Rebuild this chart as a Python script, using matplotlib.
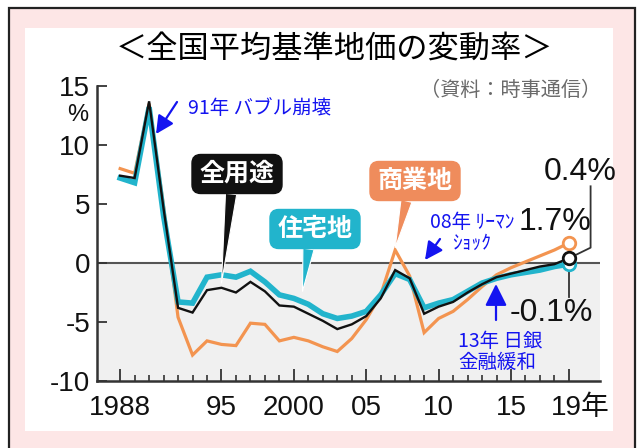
import numpy as np
import matplotlib
matplotlib.use("Agg")
import matplotlib.pyplot as plt
from matplotlib.patches import Rectangle
import matplotlib.transforms as mtransforms

# 全国平均基準地価の変動率 (%)
years = list(range(1988, 2020))
zenyoto = [7.4, 7.2, 13.7, 4.6, -3.8, -4.2, -2.3, -2.1, -2.5, -1.6,
           -2.4, -3.6, -3.7, -4.3, -4.9, -5.6, -5.2, -4.5, -3.0, -0.6,
           -1.3, -4.3, -3.7, -3.3, -2.5, -1.8, -1.2, -0.9, -0.6, -0.3,
           -0.1, 0.4]
jutaku = [7.2, 6.8, 13.2, 4.0, -3.3, -3.4, -1.2, -1.0, -1.2, -0.7,
          -1.6, -2.7, -3.0, -3.5, -4.3, -4.7, -4.5, -4.1, -2.7, -0.9,
          -1.4, -3.8, -3.4, -3.1, -2.4, -1.7, -1.3, -1.0, -0.8, -0.6,
          -0.3, -0.1]
shogyo = [8.0, 7.6, 13.5, 4.8, -4.6, -7.8, -6.6, -6.9, -7.0, -5.1,
          -5.2, -6.6, -6.3, -6.6, -7.1, -7.5, -6.4, -4.8, -2.7, 1.1,
          -1.1, -5.9, -4.7, -4.1, -3.1, -2.0, -1.0, -0.4, 0.1, 0.6,
          1.1, 1.7]

xticks = [1988, 1995, 2000, 2005, 2010, 2015, 2019]
xlabels = ["1988", "95", "2000", "05", "10", "15", "19年"]
yticks = [-10, -5, 0, 5, 10, 15]

LATIN = ["Liberation Sans", "Noto Sans CJK JP", "DejaVu Sans"]
JP = ["Noto Sans CJK JP", "DejaVu Sans"]
plt.rcParams["font.family"] = LATIN

BLACK = "#111111"
CYAN = "#22b4cc"
ORANGE = "#f39450"
BLUE = "#1414f0"
W, H = 641, 448

fig = plt.figure(figsize=(W / 100, H / 100), dpi=100)
fig.patch.set_facecolor("white")


def fpx(x, y):  # top-left pixel -> figure pixels
    return (x, H - y)


# frame: pink card with black border, white panel inside
fig.add_artist(Rectangle((9 / W, -0.1), 626 / W, 1.1 - 8 / H, transform=fig.transFigure,
                         fc="#fde6e6", ec="#222222", lw=1.6, zorder=-3))
fig.add_artist(Rectangle((25 / W, 1 - 431 / H), 588 / W, 403 / H, transform=fig.transFigure,
                         fc="white", ec="none", zorder=-2))

ax = fig.add_axes([97 / W, 1 - 381 / H, 503 / W, 295 / H])
ax.set_facecolor("none")
ax.set_xlim(1986.4, 2021.15)
ax.set_ylim(-10, 15)

ax.axhspan(-10, 0, color="#f0f0f0", zorder=0, lw=0)
ax.axhline(0, color="#555555", lw=1.5, zorder=1)

ax.plot(years, shogyo, color=ORANGE, lw=2.3, zorder=2, solid_joinstyle="miter")
ax.plot(years, jutaku, color=CYAN, lw=4.0, zorder=3, solid_joinstyle="miter")
ax.plot(years, zenyoto, color=BLACK, lw=1.7, zorder=4, solid_joinstyle="miter")

ax.plot(years[-1], shogyo[-1], "o", ms=9, mfc="white", mec=ORANGE, mew=2, zorder=5)
ax.plot(years[-1], jutaku[-1], "o", ms=9, mfc="white", mec=CYAN, mew=2, zorder=5)
ax.plot(years[-1], zenyoto[-1], "o", ms=9, mfc="white", mec=BLACK, mew=2, zorder=6)

for s in ["top", "right"]:
    ax.spines[s].set_visible(False)
for s in ["left", "bottom"]:
    ax.spines[s].set_color("#333333")
    ax.spines[s].set_linewidth(1.8)

ax.set_yticks(yticks)
ax.set_yticklabels([str(v) for v in yticks])
ax.set_xticks(xticks)
ax.set_xticklabels(xlabels)
ax.set_xticks(years, minor=True)
ax.tick_params(axis="y", direction="in", length=7, width=1.3, colors="#333333",
               labelcolor="#111111", labelsize=20, pad=5)
ax.tick_params(axis="x", which="major", direction="in", length=9, width=1.3,
               colors="#333333", labelcolor="#111111", labelsize=20, pad=10)
ax.tick_params(axis="x", which="minor", direction="in", length=4, width=1.2, colors="#333333")
lbl = ax.get_xticklabels()[-1]
lbl.set_transform(lbl.get_transform() + mtransforms.ScaledTranslation(0.11, 0, fig.dpi_scale_trans))

fig.text(78 / W, 1 - 115 / H, "%", fontsize=17, ha="center", va="center", color="#111111")

# title and source
fig.text(334 / W, 1 - 50 / H, "＜全国平均基準地価の変動率＞", fontsize=22.5, family=JP,
         ha="center", va="center", color="black")
fig.text(601 / W, 1 - 91 / H, "（資料：時事通信）", fontsize=14.5, family=JP,
         ha="right", va="center", color="#6a6a6a")

# callouts
def callout(text, xy, center, color, relx=0.5):
    ax.annotate(text, xy=xy, xycoords="data", xytext=fpx(*center), textcoords="figure pixels",
                ha="center", va="center", color="white", fontsize=18, fontweight="bold", family=JP,
                bbox=dict(boxstyle="round,pad=0.3,rounding_size=0.35", fc=color, ec=color),
                arrowprops=dict(arrowstyle="wedge,tail_width=0.45,shrink_factor=0.5", fc=color, ec="white",
                                lw=0.8, relpos=(relx, 0.5), shrinkA=0, shrinkB=0),
                zorder=8)


callout("全用途", (1995, zenyoto[7] + 0.4), (237, 174), BLACK, 0.45)
callout("住宅地", (2000.6, -2.4), (315, 229), CYAN, 0.45)
callout("商業地", (2007, shogyo[19] + 0.2), (415, 181), "#ef8c5c", 0.45)

# blue notes
def blue_arrow(tail, head, scale=18):
    ax.annotate("", xy=fpx(*head), xycoords="figure pixels", xytext=fpx(*tail), textcoords="figure pixels",
                arrowprops=dict(arrowstyle="-|>,head_length=0.6,head_width=0.3", color=BLUE, lw=1.6,
                                mutation_scale=scale, shrinkA=0, shrinkB=0), zorder=9)


blue_arrow((177, 102), (156, 134))
fig.text(188 / W, 1 - 109 / H, "91年 バブル崩壊", fontsize=14, family=JP, color=BLUE,
         ha="left", va="center")

blue_arrow((440, 239), (425, 260))
fig.text(430 / W, 1 - 222 / H, "08年 ﾘｰﾏﾝ", fontsize=14, family=JP, color=BLUE, ha="left", va="center")
fig.text(452 / W, 1 - 243 / H, "ｼｮｯｸ", fontsize=14, family=JP, color=BLUE, ha="left", va="center")

blue_arrow((496, 320), (496, 284), scale=22)
fig.text(458 / W, 1 - 341 / H, "13年 日銀", fontsize=14, family=JP, color=BLUE, ha="left", va="center")
fig.text(458 / W, 1 - 362 / H, "金融緩和", fontsize=14, family=JP, color=BLUE, ha="left", va="center")

# latest values
ax.plot([years[-1], 2020.5, 2020.5], [zenyoto[-1], 1.3, 6.5], color="#333333", lw=1.3, zorder=4)
ax.plot([years[-1], years[-1]], [jutaku[-1] - 0.4, -2.9], color="#333333", lw=1.3, zorder=4)
fig.text(580 / W, 1 - 172 / H, "0.4%", fontsize=23, ha="center", va="center", color="#111111")
fig.text(555 / W, 1 - 222 / H, "1.7%", fontsize=23, ha="center", va="center", color="#111111")
fig.text(551 / W, 1 - 313 / H, "-0.1%", fontsize=23, ha="center", va="center", color="#111111")

fig.savefig("out.png", dpi=100, facecolor=fig.get_facecolor())
